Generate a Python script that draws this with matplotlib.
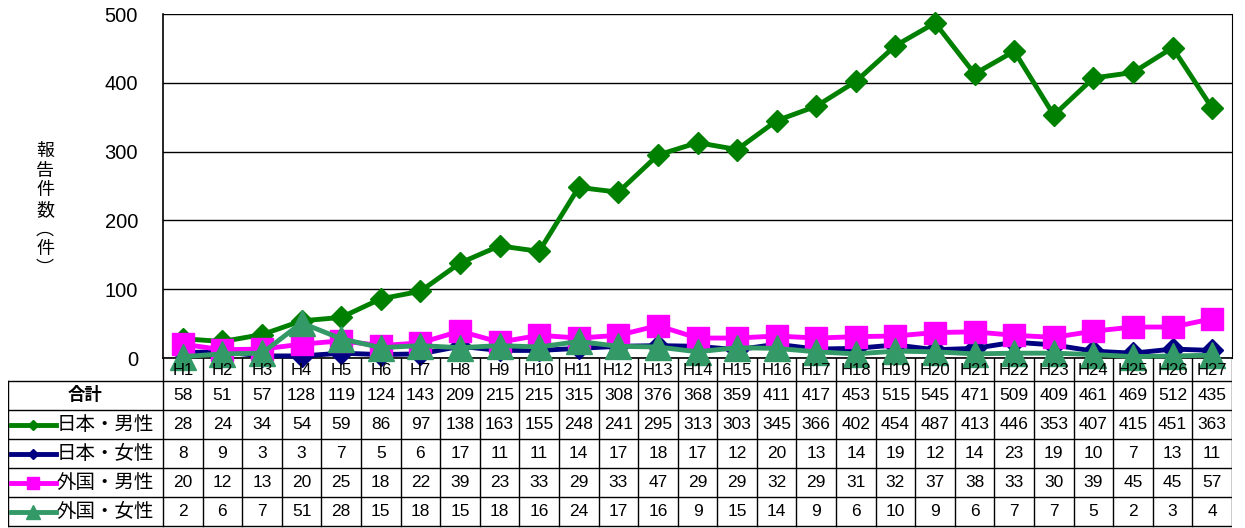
import matplotlib
matplotlib.use("Agg")
import matplotlib.pyplot as plt

years = [f"H{i}" for i in range(1, 28)]
total = [58, 51, 57, 128, 119, 124, 143, 209, 215, 215, 315, 308, 376, 368,
         359, 411, 417, 453, 515, 545, 471, 509, 409, 461, 469, 512, 435]
jp_male = [28, 24, 34, 54, 59, 86, 97, 138, 163, 155, 248, 241, 295, 313,
           303, 345, 366, 402, 454, 487, 413, 446, 353, 407, 415, 451, 363]
jp_female = [8, 9, 3, 3, 7, 5, 6, 17, 11, 11, 14, 17, 18, 17,
             12, 20, 13, 14, 19, 12, 14, 23, 19, 10, 7, 13, 11]
fr_male = [20, 12, 13, 20, 25, 18, 22, 39, 23, 33, 29, 33, 47, 29,
           29, 32, 29, 31, 32, 37, 38, 33, 30, 39, 45, 45, 57]
fr_female = [2, 6, 7, 51, 28, 15, 18, 15, 18, 16, 24, 17, 16, 9,
             15, 14, 9, 6, 10, 9, 6, 7, 7, 5, 2, 3, 4]

series = [
    ("日本・男性", jp_male, "#008000", "D", 11),
    ("日本・女性", jp_female, "#000080", "D", 11),
    ("外国・男性", fr_male, "#FF00FF", "s", 16.5),
    ("外国・女性", fr_female, "#339966", "^", 19),
]

JP = ["Noto Sans CJK JP", "DejaVu Sans"]
NUM = ["Liberation Sans", "DejaVu Sans"]

W, H = 1245, 528
fig = plt.figure(figsize=(W / 100, H / 100), dpi=100)

# plot area: x 163..1232 px, y 14..358 px
ax = fig.add_axes([163 / W, (H - 358) / H, (1232 - 163) / W, (358 - 14) / H])
x = list(range(len(years)))
for name, vals, col, mk, ms in series:
    ax.plot(x, vals, color=col, lw=3.5, marker=mk, ms=ms, mec=col, mfc=col,
            clip_on=False, zorder=3)
ax.set_xlim(-0.5, len(years) - 0.5)
ax.set_ylim(0, 500)
ax.set_yticks(range(0, 501, 100))
ax.set_yticklabels([str(v) for v in range(0, 501, 100)], family=NUM, fontsize=14.5)
ax.tick_params(axis="y", length=0, pad=18)
ax.set_xticks([])
ax.grid(axis="y", color="black", lw=1)
for s in ax.spines.values():
    s.set_color("black")
    s.set_linewidth(1.2)
ax.spines["right"].set_linewidth(0.8)
ax.spines["top"].set_visible(False)

fig.text(45 / W, 1 - 210 / H, "報\n告\n件\n数\n︵\n件\n︶", family=JP, fontsize=13,
         ha="center", va="center", linespacing=1.12)

# data table below the plot: y 358..528 px
colw = (1232 - 163) / len(years)
lab_w = (163 - 8) / colw
hdr = 23
rowh = 29
tab = fig.add_axes([8 / W, 0, (1232 - 8) / W, (H - 358) / H])
tab.set_xlim(-0.5 - lab_w, len(years) - 0.5)
tab.set_ylim(H - 358, 0)
tab.axis("off")

left = -0.5 - lab_w
right = len(years) - 0.5
bottom = hdr + 5 * rowh
# header row
for i, lab in enumerate(years):
    tab.text(i, hdr / 2 + 1, lab, ha="center", va="center", family=NUM,
             fontsize=12)
for i in range(len(years) + 1):
    tab.plot([i - 0.5, i - 0.5], [0, bottom], color="black", lw=1)
tab.plot([left, left], [hdr, bottom], color="black", lw=1)
for k in range(6):
    tab.plot([left, right], [hdr + k * rowh] * 2, color="black", lw=1)

rows = [("合計", total, None, None, None)] + series
for r, (name, vals, col, mk, ms) in enumerate(rows):
    yc = hdr + (r + 0.5) * rowh
    for i, v in enumerate(vals):
        tab.text(i, yc, str(v), ha="center", va="center", family=NUM,
                 fontsize=12.5)
    if col is None:
        tab.text(left + lab_w / 2, yc, name, ha="center", va="center",
                 family=JP, fontsize=12.5, fontweight="bold")
    else:
        x0 = left + 3 / colw
        x1 = left + 48 / colw
        tab.plot([x0, x1], [yc, yc], color=col, lw=3.5)
        tab.plot([(x0 + x1) / 2], [yc], color=col, marker=mk, ms=ms * 0.5,
                 mec=col, mfc=col)
        tab.text(x1 + 0.02, yc, name, ha="left", va="center", family=JP,
                 fontsize=14)

fig.savefig("out.png", dpi=100)
